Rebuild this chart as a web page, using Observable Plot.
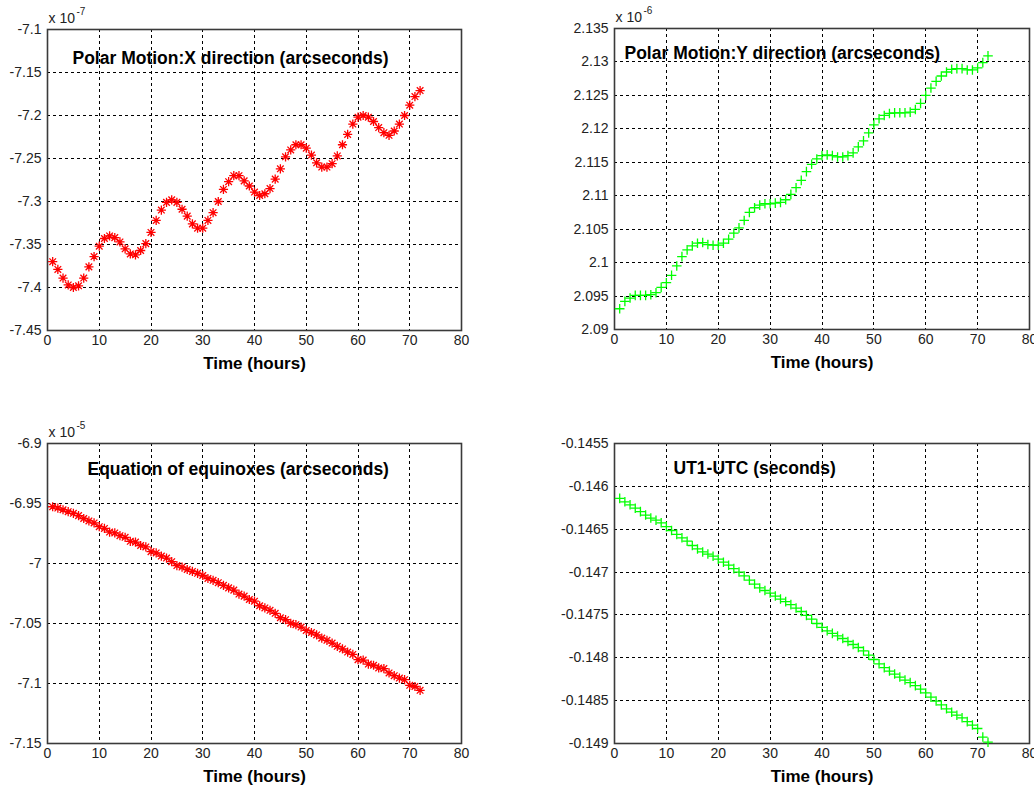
<!DOCTYPE html>
<html><head><meta charset="utf-8">
<script src="https://cdn.jsdelivr.net/npm/d3@7"></script>
<script src="https://cdn.jsdelivr.net/npm/@observablehq/plot@0.6"></script>
<style>
body{margin:0;background:#fff;width:1034px;height:789px;position:relative;overflow:hidden;font-family:"Liberation Sans",Arial,sans-serif}
.panel{position:absolute}
</style></head><body>
<div id="p1" class="panel" style="left:0;top:0"></div>
<div id="p2" class="panel" style="left:517px;top:0"></div>
<div id="p3" class="panel" style="left:0;top:390px"></div>
<div id="p4" class="panel" style="left:517px;top:390px"></div>
<script>
// Time axis (hours)
const hours = [1,2,3,4,5,6,7,8,9,10,11,12,13,14,15,16,17,18,19,20,21,22,23,24,25,26,27,28,29,30,31,32,33,34,35,36,
  37,38,39,40,41,42,43,44,45,46,47,48,49,50,51,52,53,54,55,56,57,58,59,60,61,62,63,64,65,66,67,68,69,70,71,72];
const xTicks = [0,10,20,30,40,50,60,70,80];

// Polar Motion X (x 10^-7 arcseconds)
const polarX = [-7.370,-7.379,-7.389,-7.397,-7.400,-7.398,-7.389,-7.376,-7.364,-7.352,-7.343,-7.340,-7.342,-7.347,-7.355,-7.361,-7.362,-7.357,
  -7.349,-7.336,-7.322,-7.310,-7.301,-7.298,-7.301,-7.309,-7.317,-7.326,-7.331,-7.331,-7.322,-7.313,-7.300,-7.286,-7.277,-7.270,
  -7.270,-7.276,-7.282,-7.289,-7.293,-7.291,-7.285,-7.274,-7.262,-7.248,-7.240,-7.234,-7.234,-7.238,-7.246,-7.255,-7.260,-7.260,
  -7.256,-7.247,-7.234,-7.222,-7.210,-7.202,-7.200,-7.202,-7.207,-7.214,-7.220,-7.223,-7.218,-7.210,-7.200,-7.188,-7.178,-7.171];
const polarXTicks = [-7.45,-7.4,-7.35,-7.3,-7.25,-7.2,-7.15,-7.1];

// Polar Motion Y (x 10^-6 arcseconds)
const polarY = [2.0931,2.0942,2.0947,2.0951,2.0951,2.0951,2.0952,2.0955,2.0963,2.0970,2.0981,2.0995,2.1009,2.1019,2.1025,2.1029,2.1030,2.1027,
  2.1026,2.1026,2.1029,2.1035,2.1044,2.1052,2.1063,2.1075,2.1082,2.1086,2.1088,2.1088,2.1089,2.1090,2.1094,2.1102,2.1112,2.1123,
  2.1136,2.1147,2.1155,2.1160,2.1161,2.1160,2.1158,2.1158,2.1160,2.1164,2.1173,2.1182,2.1194,2.1206,2.1215,2.1220,2.1223,2.1224,
  2.1224,2.1224,2.1225,2.1229,2.1238,2.1250,2.1261,2.1271,2.1279,2.1285,2.1289,2.1290,2.1290,2.1288,2.1288,2.1291,2.1299,2.1309];
const polarYTicks = [2.09,2.095,2.1,2.105,2.11,2.115,2.12,2.125,2.13,2.135];

// Equation of equinoxes (x 10^-5 arcseconds)
const eqEquinox = [-6.9527,-6.9538,-6.9552,-6.9568,-6.9582,-6.9601,-6.9625,-6.9645,-6.9662,-6.9693,-6.9708,-6.9738,-6.9745,-6.9768,-6.9782,-6.9815,-6.9822,-6.9850,
  -6.9862,-6.9901,-6.9912,-6.9938,-6.9955,-6.9985,-7.0017,-7.0030,-7.0050,-7.0066,-7.0082,-7.0100,-7.0125,-7.0140,-7.0160,-7.0182,-7.0203,-7.0222,
  -7.0255,-7.0272,-7.0300,-7.0314,-7.0352,-7.0370,-7.0390,-7.0415,-7.0452,-7.0468,-7.0498,-7.0510,-7.0530,-7.0558,-7.0575,-7.0595,-7.0622,-7.0640,
  -7.0663,-7.0690,-7.0712,-7.0738,-7.0758,-7.0801,-7.0805,-7.0838,-7.0848,-7.0870,-7.0876,-7.0912,-7.0935,-7.0955,-7.0968,-7.1015,-7.1025,-7.1057];
const eqTicks = [-7.15,-7.1,-7.05,-7,-6.95,-6.9];

// UT1-UTC (seconds)
const ut1utc = [-0.146140,-0.146180,-0.146215,-0.146255,-0.146295,-0.146335,-0.146370,-0.146395,-0.146425,-0.146470,-0.146515,-0.146560,
  -0.146600,-0.146640,-0.146690,-0.146730,-0.146765,-0.146790,-0.146815,-0.146850,-0.146885,-0.146920,-0.146960,-0.147000,
  -0.147045,-0.147095,-0.147140,-0.147185,-0.147215,-0.147245,-0.147280,-0.147315,-0.147345,-0.147380,-0.147420,-0.147460,
  -0.147505,-0.147550,-0.147600,-0.147645,-0.147685,-0.147715,-0.147745,-0.147775,-0.147810,-0.147845,-0.147880,-0.147920,
  -0.147970,-0.148020,-0.148070,-0.148115,-0.148155,-0.148190,-0.148225,-0.148260,-0.148290,-0.148325,-0.148365,-0.148410,
  -0.148460,-0.148505,-0.148550,-0.148595,-0.148635,-0.148670,-0.148700,-0.148745,-0.148785,-0.148825,-0.148925,-0.148985];
const utTicks = [-0.149,-0.1485,-0.148,-0.1475,-0.147,-0.1465,-0.146,-0.1455];

const asteriskSym = {draw(ctx, size){const r=Math.sqrt(size/Math.PI), d=r*0.72;
  ctx.moveTo(-r,0);ctx.lineTo(r,0);ctx.moveTo(0,-r);ctx.lineTo(0,r);
  ctx.moveTo(-d,-d);ctx.lineTo(d,d);ctx.moveTo(-d,d);ctx.lineTo(d,-d);}};
const plusSym = {draw(ctx, size){const r=Math.sqrt(size/Math.PI);
  ctx.moveTo(-r,0);ctx.lineTo(r,0);ctx.moveTo(0,-r);ctx.lineTo(0,r);}};

const FONT = '"Liberation Sans", Arial, Helvetica, sans-serif';
const fmt = d => String(+d.toFixed(5));

function panel(o){
  const data = hours.map((h,i)=>({h, v:o.values[i]}));
  const marks = [
    Plot.gridX(xTicks, {stroke:"#000", strokeOpacity:1, strokeDasharray:"3,3", shapeRendering:"crispEdges"}),
    Plot.gridY(o.yTicks, {stroke:"#000", strokeOpacity:1, strokeDasharray:"3,3", shapeRendering:"crispEdges"}),
    Plot.axisX(xTicks, {tickSize:0, tickPadding:5, fontSize:14, fill:"#222", label:null}),
    Plot.axisY(o.yTicks, {tickSize:0, tickPadding:6, fontSize:14, fill:"#222", tickFormat:fmt, label:null}),
    Plot.frame({stroke:"#3a3a3a", strokeWidth:1.6}),
    Plot.dot(data, {x:"h", y:"v", symbol:o.symbol, r:o.r, stroke:o.color, fill:"none", strokeWidth:1.3}),
    Plot.text([o.title], {text:d=>d, frameAnchor:"top-left", dx:o.tdx, dy:o.tdy, textAnchor:"start", lineAnchor:"middle", fontWeight:"bold", fontSize:17.5, fill:"#000"}),
    Plot.text(["Time (hours)"], {text:d=>d, frameAnchor:"bottom", dy:33, lineAnchor:"middle", fontWeight:"bold", fontSize:17, fill:"#000"})
  ];
  if (o.exp) {
    marks.push(Plot.text(["x 10"], {text:d=>d, frameAnchor:"top-left", dx:1, dy:-11, textAnchor:"start", lineAnchor:"middle", fontSize:14, fill:"#222"}));
    marks.push(Plot.text([o.exp], {text:d=>d, frameAnchor:"top-left", dx:29, dy:-18, textAnchor:"start", lineAnchor:"middle", fontSize:10, fill:"#222"}));
  }
  const chart = Plot.plot({
    width:o.width, height:o.height,
    marginLeft:o.ml, marginRight:o.mr, marginTop:o.mt, marginBottom:o.mb,
    x:{domain:[0,80]},
    y:{domain:o.domain},
    style:{fontFamily:FONT, fontSize:"14px", background:"transparent", overflow:"visible", color:"#222"},
    marks
  });
  document.getElementById(o.id).appendChild(chart);
}

panel({id:"p1", values:polarX, yTicks:polarXTicks, domain:[-7.45,-7.1], symbol:asteriskSym, r:4.6, color:"#ff0000",
  title:"Polar Motion:X direction (arcseconds)", tdx:25, tdy:29, exp:"-7",
  width:517, height:380, ml:47, mr:56, mt:29, mb:50});
panel({id:"p2", values:polarY, yTicks:polarYTicks, domain:[2.09,2.135], symbol:plusSym, r:4.8, color:"#00ff00",
  title:"Polar Motion:Y direction (arcseconds)", tdx:10, tdy:25, exp:"-6",
  width:517, height:380, ml:97, mr:5, mt:28, mb:51});
panel({id:"p3", values:eqEquinox, yTicks:eqTicks, domain:[-7.15,-6.9], symbol:asteriskSym, r:4.6, color:"#ff0000",
  title:"Equation of equinoxes (arcseconds)", tdx:40, tdy:26, exp:"-5",
  width:517, height:399, ml:47, mr:56, mt:53, mb:46});
panel({id:"p4", values:ut1utc, yTicks:utTicks, domain:[-0.149,-0.1455], symbol:plusSym, r:4.8, color:"#00ff00",
  title:"UT1-UTC (seconds)", tdx:59, tdy:25, exp:null,
  width:517, height:399, ml:97, mr:5, mt:53, mb:46});
</script>
</body></html>
